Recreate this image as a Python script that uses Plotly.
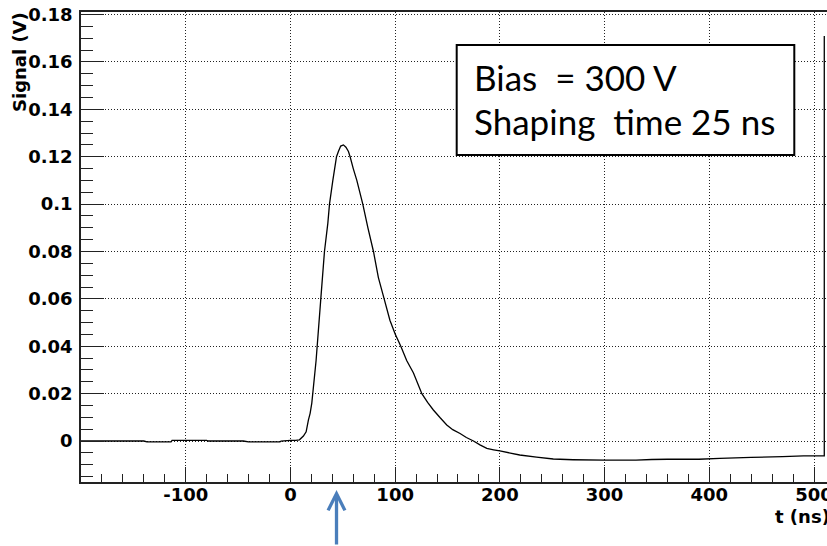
import plotly.graph_objects as go

# ---- data ----
t_ns = [-200, -140, -137, -125, -114, -113, -100, -80, -79, -45, -40, -10, -9, 0, 5,
        8.6, 12.4, 15, 17.2, 18.8, 20.4, 24.5, 29, 32.5, 35.7, 37.3, 40.5, 44, 45.8, 48,
        50.6, 53, 55.4, 57, 60, 63.4, 69.1, 74, 79.3, 84, 89.5, 95, 100, 105.4, 111,
        117.5, 125.5, 131, 136.5, 143, 149.3, 155, 162, 168, 174.8, 181, 187.5, 194, 200,
        210, 219, 235, 251, 270, 300, 330, 345, 360, 390, 410, 440, 470, 490, 509.8, 509.8]
signal_v = [0.0, 0.0, -0.0004, -0.0004, -0.0004, 0.0003, 0.0003, 0.0003, 0.0, 0.0, -0.0004,
            -0.0004, 0.0, 0.0003, 0.0003,
            0.0005, 0.0021, 0.0039, 0.0089, 0.0117, 0.016, 0.034, 0.06, 0.08, 0.0919, 0.1,
            0.11, 0.12, 0.1222, 0.1245,
            0.125, 0.124, 0.1222, 0.12, 0.115, 0.110, 0.1, 0.09, 0.08, 0.069, 0.06, 0.051,
            0.0452, 0.04, 0.034,
            0.0287, 0.02, 0.0163, 0.0131, 0.0098, 0.0068, 0.0048, 0.0032, 0.0015, 0.0, -0.0016,
            -0.0031, -0.0037, -0.0042,
            -0.0051, -0.0059, -0.0068, -0.0076, -0.0079, -0.0081, -0.0081, -0.0078, -0.0077,
            -0.0077, -0.0073, -0.0069, -0.0066, -0.0063, -0.0063, 0.171]

x_tick_vals = [-100, 0, 100, 200, 300, 400, 500]
x_tick_text = ["-100", "0", "100", "200", "300", "400", "500"]
y_tick_vals = [0, 0.02, 0.04, 0.06, 0.08, 0.1, 0.12, 0.14, 0.16, 0.18]
y_tick_text = ["0", "0.02", "0.04", "0.06", "0.08", "0.1", "0.12", "0.14", "0.16", "0.18"]

box_lines = ["Bias \u00a0= 300 V", "Shaping \u00a0time 25 ns"]
x_title = "t (ns)"
y_title = "Signal (V)"
arrow_t = 44

W, H = 827, 546
L, R, T, B = 81, 0, 12, 64
pw, ph = W - L - R, H - T - B


def px_x(px):
    return (px - L) / pw


def px_y(py):
    return (H - B - py) / ph


fig = go.Figure()
fig.add_trace(go.Scatter(x=t_ns, y=signal_v, mode="lines",
                         line=dict(color="black", width=1.3, simplify=False),
                         showlegend=False, cliponaxis=False))

tickfont = dict(family="DejaVu Sans", size=18, color="black", weight="bold")

fig.update_layout(
    width=W, height=H,
    margin=dict(l=L, r=R, t=T, b=B, autoexpand=False),
    paper_bgcolor="white", plot_bgcolor="white",
    xaxis=dict(range=[-200, 512.4], tickmode="array", tickvals=x_tick_vals,
               ticktext=x_tick_text, ticks="inside", ticklen=15, tickwidth=1.3,
               tickcolor="#222", showline=True, linecolor="#222", linewidth=1.5,
               mirror=True, showgrid=True, gridcolor="#222", gridwidth=1,
               griddash="1px,2px", zeroline=False, tickfont=tickfont,
               ticklabelstandoff=-4, ticklabeloverflow="allow",
               minor=dict(tick0=0, dtick=20, ticks="inside", ticklen=8,
                          tickwidth=1.3, tickcolor="#222", showgrid=False)),
    yaxis=dict(range=[-0.0173, 0.1811], tickmode="array", tickvals=y_tick_vals,
               ticktext=y_tick_text, ticks="inside", ticklen=23, tickwidth=1.3,
               tickcolor="#222", showline=True, linecolor="#222", linewidth=1.5,
               mirror=False, showgrid=True, gridcolor="#222", gridwidth=1,
               griddash="1px,2px", zeroline=False, tickfont=tickfont,
               ticklabelstandoff=3, ticklabeloverflow="allow",
               minor=dict(tick0=0, dtick=0.005, ticks="inside", ticklen=12,
                          tickwidth=1.3, tickcolor="#222", showgrid=False)),
)

# text box
fig.add_shape(type="rect", xref="paper", yref="paper",
              x0=px_x(456.7), x1=px_x(794.3), y0=px_y(155), y1=px_y(45),
              line=dict(color="black", width=2), fillcolor="white", layer="above")
for i, line in enumerate(box_lines):
    fig.add_annotation(xref="paper", yref="paper", x=px_x(472), y=px_y(77 + 44 * i),
                       xanchor="left", yanchor="middle", text=line, showarrow=False,
                       font=dict(family="Lato", size=35, color="black"))

# axis titles
fig.add_annotation(xref="paper", yref="paper", x=px_x(19), y=px_y(62),
                   xanchor="center", yanchor="middle", text=y_title, textangle=-90,
                   showarrow=False,
                   font=dict(family="DejaVu Sans", size=18, color="black", weight="bold"))
fig.add_annotation(xref="paper", yref="paper", x=px_x(832), y=px_y(516),
                   xanchor="right", yanchor="middle", text=x_title, showarrow=False,
                   font=dict(family="DejaVu Sans", size=18, color="black", weight="bold"))

# blue arrow
fig.add_annotation(xref="x", yref="paper", x=arrow_t, y=px_y(490), ax=0, ay=60,
                   text="", showarrow=True, arrowhead=5, arrowsize=1, arrowwidth=3.3,
                   arrowcolor="#4A7EBB")

fig.write_html("out.html")
